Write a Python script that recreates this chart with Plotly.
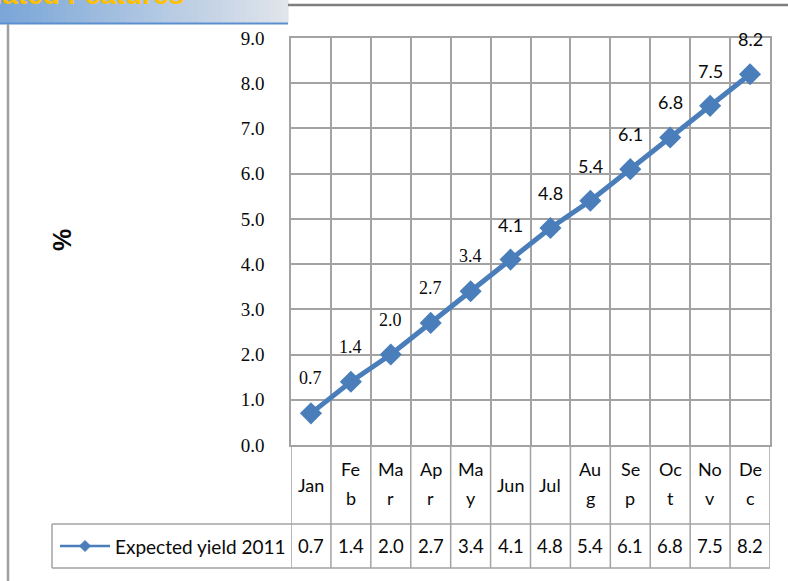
import plotly.graph_objects as go

# ---- data ----
months = ["Jan", "Feb", "Mar", "Apr", "May", "Jun",
          "Jul", "Aug", "Sep", "Oct", "Nov", "Dec"]
# month names as they wrap inside the narrow table cells
month_cells = [["Jan"], ["Fe", "b"], ["Ma", "r"], ["Ap", "r"], ["Ma", "y"], ["Jun"],
               ["Jul"], ["Au", "g"], ["Se", "p"], ["Oc", "t"], ["No", "v"], ["De", "c"]]
expected_yield = [0.7, 1.4, 2.0, 2.7, 3.4, 4.1, 4.8, 5.4, 6.1, 6.8, 7.5, 8.2]
series_name = "Expected yield 2011"
y_ticks = [0, 1, 2, 3, 4, 5, 6, 7, 8, 9]
banner_text = "Estimated Features"

# ---- page geometry (pixels) ----
W, H = 788, 581
L, R, T, B = 291, 770, 38, 445          # plot area
ROW1, ROW2 = 524, 568                    # bottoms of the label row / value row
LEG_L = 52                               # left edge of the legend cell

BLUE = "#4A7EBB"
GRID = "#A3A3A3"
INK = "#0A0A0A"
TABLE_FONT = "Lato, 'Open Sans', sans-serif"
SERIF = "'Liberation Serif', 'DejaVu Serif', serif"


def px(x):
    return (x - L) / (R - L)


def py(y):
    return (B - y) / (B - T)


fig = go.Figure()

fig.add_trace(go.Scatter(
    x=months, y=expected_yield, name=series_name,
    mode="lines+markers",
    line=dict(color=BLUE, width=5),
    marker=dict(symbol="diamond", size=17, color=BLUE),
    cliponaxis=False, showlegend=False,
))

shapes = []
annotations = []

# data labels above each point
for i, (m, v) in enumerate(zip(months, expected_yield)):
    annotations.append(dict(
        x=m, y=v, xref="x", yref="y", text=f"{v:.1f}", showarrow=False,
        xanchor="center", yanchor="middle", yshift=35,
        font=dict(family=SERIF if i < 5 else TABLE_FONT, size=18, color=INK),
    ))

# ---- data table under the plot ----
line_style = dict(color=GRID, width=1.5)
# vertical cell borders on category boundaries
for i in range(len(months) + 1):
    shapes.append(dict(type="line", xref="x", yref="paper",
                       x0=i - 0.5, x1=i - 0.5, y0=py(B), y1=py(ROW2), line=line_style))
# horizontal borders
shapes.append(dict(type="line", xref="paper", yref="paper",
                   x0=px(LEG_L), x1=1, y0=py(ROW1), y1=py(ROW1), line=line_style))
shapes.append(dict(type="line", xref="paper", yref="paper",
                   x0=px(LEG_L), x1=1, y0=py(ROW2), y1=py(ROW2), line=line_style))
shapes.append(dict(type="line", xref="paper", yref="paper",
                   x0=px(LEG_L), x1=px(LEG_L), y0=py(ROW1), y1=py(ROW2), line=line_style))

# month names
for m, parts in zip(months, month_cells):
    ys = [485] if len(parts) == 1 else [469, 498]
    for part, yy in zip(parts, ys):
        annotations.append(dict(x=m, y=py(yy), xref="x", yref="paper", text=part,
                                xanchor="center", yanchor="middle", showarrow=False,
                                font=dict(family=TABLE_FONT, size=18, color=INK)))

# values row
for m, v in zip(months, expected_yield):
    annotations.append(dict(x=m, y=py(546), xref="x", yref="paper", text=f"{v:.1f}",
                            xanchor="center", yanchor="middle", showarrow=False,
                            font=dict(family=TABLE_FONT, size=18.5, color=INK)))

# legend key in the first cell of the values row
shapes.append(dict(type="line", xref="paper", yref="paper",
                   x0=px(60), x1=px(110), y0=py(546), y1=py(546),
                   line=dict(color=BLUE, width=2.5)))
cx, cy, d = 85, 546, 5.5
shapes.append(dict(type="path", xref="paper", yref="paper",
                   path=f"M {px(cx - d)} {py(cy)} L {px(cx)} {py(cy - d)} L {px(cx + d)} {py(cy)} "
                        f"L {px(cx)} {py(cy + d)} Z",
                   fillcolor=BLUE, line=dict(color=BLUE, width=1)))
annotations.append(dict(x=px(113), y=py(546), xref="paper", yref="paper",
                        xanchor="left", yanchor="middle",
                        text=series_name, showarrow=False,
                        font=dict(family=TABLE_FONT, size=19, color=INK)))

# axis title
annotations.append(dict(x=px(62), y=py(240), xref="paper", yref="paper", text="<b>%</b>",
                        xanchor="center", yanchor="middle", textangle=-90, showarrow=False,
                        font=dict(family="'Liberation Sans', Arial, sans-serif", size=25, color=INK)))

# ---- slide decoration: banner, rule lines ----
c0 = (122, 166, 216)
c1 = (224, 228, 235)
n = 48
bw = 288 / n
for k in range(n):
    t = k / (n - 1)
    col = tuple(round(a + (b - a) * t) for a, b in zip(c0, c1))
    shapes.append(dict(type="rect", xref="paper", yref="paper", layer="below",
                       x0=px(k * bw), x1=px((k + 1) * bw + 0.6), y0=py(23), y1=py(0),
                       fillcolor=f"rgb{col}", line=dict(width=0)))
shapes.append(dict(type="line", xref="paper", yref="paper",
                   x0=px(0), x1=px(288), y0=py(23.5), y1=py(23.5),
                   line=dict(color="#5B8FD2", width=2)))
shapes.append(dict(type="line", xref="paper", yref="paper",
                   x0=px(288), x1=px(788), y0=py(5), y1=py(5),
                   line=dict(color="#7F7F7F", width=2.5)))
shapes.append(dict(type="line", xref="paper", yref="paper",
                   x0=px(8), x1=px(8), y0=py(24), y1=py(581),
                   line=dict(color="#A0A0A0", width=2.5)))
annotations.append(dict(x=px(186), y=py(-6), xref="paper", yref="paper",
                        xanchor="right", yanchor="middle",
                        text=f"<b>{banner_text}</b>", showarrow=False,
                        font=dict(family="'Liberation Sans', Arial, sans-serif", size=28, color="#FFC000")))

fig.update_layout(
    width=W, height=H,
    margin=dict(l=L, r=W - R, t=T, b=H - B, autoexpand=False),
    paper_bgcolor="white", plot_bgcolor="white",
    shapes=shapes, annotations=annotations,
    xaxis=dict(type="category", categoryorder="array", categoryarray=months,
               tickson="boundaries", showticklabels=False, ticks="",
               showgrid=True, gridcolor=GRID, gridwidth=1.5,
               showline=True, mirror=True, linecolor=GRID, linewidth=1.5,
               range=[-0.5, 11.5], fixedrange=True),
    yaxis=dict(range=[0, 9], tickvals=y_ticks, tickformat=".1f",
               showgrid=True, gridcolor=GRID, gridwidth=1.5, zeroline=False,
               showline=True, mirror=True, linecolor=GRID, linewidth=1.5,
               ticks="", ticklabelstandoff=21,
               tickfont=dict(family=SERIF, size=19, color=INK), fixedrange=True),
    showlegend=False,
)

fig.write_html("out.html")
